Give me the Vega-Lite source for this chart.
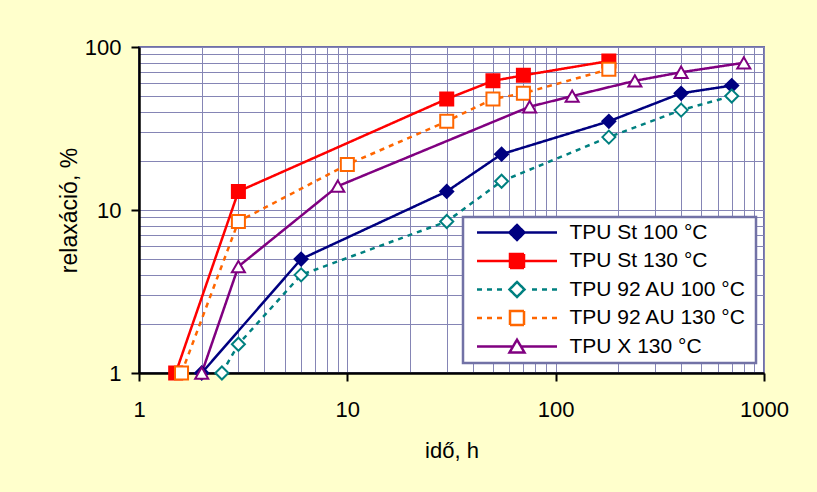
{
  "$schema": "https://vega.github.io/schema/vega-lite/v6.json",
  "width": 625,
  "height": 326,
  "autosize": {"type": "none"},
  "padding": {"left": 139, "top": 47, "right": 53, "bottom": 119},
  "background": "#FFFFCC",
  "config": {
    "font": "Liberation Sans",
    "view": {"fill": "white", "stroke": "#7070A8", "strokeWidth": 2}
  },
  "data": {
    "values": [
      {"series": "TPU St 100 °C", "t": 2, "r": 1},
      {"series": "TPU St 100 °C", "t": 6, "r": 5},
      {"series": "TPU St 100 °C", "t": 30, "r": 13},
      {"series": "TPU St 100 °C", "t": 55, "r": 22},
      {"series": "TPU St 100 °C", "t": 180, "r": 35},
      {"series": "TPU St 100 °C", "t": 400, "r": 52},
      {"series": "TPU St 100 °C", "t": 700, "r": 58},
      {"series": "TPU St 130 °C", "t": 1.5, "r": 1},
      {"series": "TPU St 130 °C", "t": 3, "r": 13},
      {"series": "TPU St 130 °C", "t": 30, "r": 48},
      {"series": "TPU St 130 °C", "t": 50, "r": 62},
      {"series": "TPU St 130 °C", "t": 70, "r": 67},
      {"series": "TPU St 130 °C", "t": 180, "r": 82},
      {"series": "TPU 92 AU 100 °C", "t": 2.5, "r": 1},
      {"series": "TPU 92 AU 100 °C", "t": 3, "r": 1.5},
      {"series": "TPU 92 AU 100 °C", "t": 6, "r": 4},
      {"series": "TPU 92 AU 100 °C", "t": 30, "r": 8.5},
      {"series": "TPU 92 AU 100 °C", "t": 55, "r": 15},
      {"series": "TPU 92 AU 100 °C", "t": 180, "r": 28},
      {"series": "TPU 92 AU 100 °C", "t": 400, "r": 41},
      {"series": "TPU 92 AU 100 °C", "t": 700, "r": 50},
      {"series": "TPU 92 AU 130 °C", "t": 1.6, "r": 1},
      {"series": "TPU 92 AU 130 °C", "t": 3, "r": 8.5},
      {"series": "TPU 92 AU 130 °C", "t": 10, "r": 19},
      {"series": "TPU 92 AU 130 °C", "t": 30, "r": 35},
      {"series": "TPU 92 AU 130 °C", "t": 50, "r": 48},
      {"series": "TPU 92 AU 130 °C", "t": 70, "r": 52},
      {"series": "TPU 92 AU 130 °C", "t": 180, "r": 73},
      {"series": "TPU X 130 °C", "t": 2, "r": 1},
      {"series": "TPU X 130 °C", "t": 3, "r": 4.5},
      {"series": "TPU X 130 °C", "t": 9, "r": 14},
      {"series": "TPU X 130 °C", "t": 75, "r": 43},
      {"series": "TPU X 130 °C", "t": 120, "r": 50},
      {"series": "TPU X 130 °C", "t": 240, "r": 62},
      {"series": "TPU X 130 °C", "t": 400, "r": 70},
      {"series": "TPU X 130 °C", "t": 800, "r": 80}
    ]
  },
  "encoding": {
    "x": {
      "field": "t",
      "type": "quantitative",
      "scale": {"type": "log", "domain": [1, 1000], "nice": false},
      "axis": {
        "values": [1, 2, 3, 4, 5, 6, 7, 8, 9, 10, 20, 30, 40, 50, 60, 70, 80, 90, 100, 200, 300, 400, 500, 600, 700, 800, 900, 1000],
        "format": "d",
        "labelExpr": "indexof([1, 10, 100, 1000], datum.value) >= 0 ? datum.label : ''",
        "labelFontSize": 22,
        "labelColor": "black",
        "labelPadding": 18,
        "labelOverlap": false,
        "labelFlush": false,
        "tickColor": "black",
        "tickWidth": 2,
        "tickSize": 8,
        "tickOpacity": {"condition": {"test": "indexof([1, 10, 100, 1000], datum.value) >= 0", "value": 1}, "value": 0},
        "domainColor": "black",
        "domainWidth": 2.5,
        "grid": true,
        "gridColor": "#8585B5",
        "gridWidth": 1,
        "title": "idő, h",
        "titleFontSize": 22,
        "titleFontWeight": "normal",
        "titleColor": "black",
        "titlePadding": 20
      }
    },
    "y": {
      "field": "r",
      "type": "quantitative",
      "scale": {"type": "log", "domain": [1, 100], "nice": false},
      "axis": {
        "values": [1, 2, 3, 4, 5, 6, 7, 8, 9, 10, 20, 30, 40, 50, 60, 70, 80, 90, 100],
        "format": "d",
        "labelExpr": "indexof([1, 10, 100], datum.value) >= 0 ? datum.label : ''",
        "labelFontSize": 22,
        "labelColor": "black",
        "labelPadding": 10,
        "labelOverlap": false,
        "labelFlush": false,
        "tickColor": "black",
        "tickWidth": 2,
        "tickSize": 8,
        "tickOpacity": {"condition": {"test": "indexof([1, 10, 100], datum.value) >= 0", "value": 1}, "value": 0},
        "domainColor": "black",
        "domainWidth": 2.5,
        "grid": true,
        "gridColor": "#8585B5",
        "gridWidth": 1,
        "title": "relaxáció, %",
        "titleFontSize": 23,
        "titleFontWeight": "normal",
        "titleColor": "black",
        "titlePadding": 3
      }
    }
  },
  "layer": [
    {
      "mark": {"type": "line", "strokeWidth": 2.5},
      "encoding": {
        "color": {
          "field": "series",
          "type": "nominal",
          "scale": {
            "domain": ["TPU St 100 °C", "TPU St 130 °C", "TPU 92 AU 100 °C", "TPU 92 AU 130 °C", "TPU X 130 °C"],
            "range": ["#000080", "#FF0000", "#008080", "#FF6600", "#800080"]
          },
          "legend": {
            "title": " ",
            "titleOrient": "right",
            "titlePadding": 5,
            "titleFontSize": 21,
            "orient": "none",
            "legendX": 324,
            "legendY": 170,
            "fillColor": "white",
            "strokeColor": "#7272A6",
            "padding": 5,
            "symbolSize": 6400,
            "symbolStrokeWidth": 2.5,
            "symbolOffset": 7.5,
            "labelOffset": 11,
            "labelFontSize": 21,
            "labelColor": "black",
            "labelLimit": 400,
            "rowPadding": 3.5,
            "encode": {
              "legend": {"update": {"strokeWidth": {"value": 2.5}}},
              "labels": {"update": {"y": {"value": 10.5}}},
              "symbols": {
                "update": {
                  "y": {"value": 10.5},
                  "size": {"value": 6400},
                  "shape": {"signal": "['M-1,0H1M0,-0.1875L0.1875,0L0,0.1875L-0.1875,0Z', 'M-1,0H1M-0.175,-0.175H0.175V0.175H-0.175Z', 'M-1,0H-0.875M-0.75,0H-0.625M-0.5,0H-0.375M0.375,0H0.5M0.625,0H0.75M0.875,0H1M0,-0.1875L0.1875,0L0,0.1875L-0.1875,0Z', 'M-1,0H-0.875M-0.75,0H-0.625M-0.5,0H-0.375M0.375,0H0.5M0.625,0H0.75M0.875,0H1M-0.175,-0.175H0.175V0.175H-0.175Z', 'M-1,0H-0.1M0.1,0H1M0,-0.17L0.1875,0.15L-0.1875,0.15Z'][indexof(['TPU St 100 °C', 'TPU St 130 °C', 'TPU 92 AU 100 °C', 'TPU 92 AU 130 °C', 'TPU X 130 °C'], datum.value)]"},
                  "fill": {"signal": "['#000080', '#FF0000', '#FFFFFF', '#FFFFFF', '#FFFFFF'][indexof(['TPU St 100 °C', 'TPU St 130 °C', 'TPU 92 AU 100 °C', 'TPU 92 AU 130 °C', 'TPU X 130 °C'], datum.value)]"},
                  "strokeDash": {"value": [1, 0]},
                  "strokeWidth": {"value": 2.5},
                  "opacity": {"value": 1}
                }
              }
            }
          }
        },
        "strokeDash": {
          "field": "series",
          "type": "nominal",
          "scale": {
            "domain": ["TPU X 130 °C", "TPU 92 AU 130 °C", "TPU 92 AU 100 °C", "TPU St 130 °C", "TPU St 100 °C"],
            "range": [[1, 0], [5, 5], [5, 5], [1, 0], [1, 0]]
          },
          "legend": null
        }
      }
    },
    {
      "mark": {"type": "point", "filled": true, "opacity": 1, "strokeWidth": 2},
      "encoding": {
        "shape": {
          "field": "series",
          "type": "nominal",
          "scale": {
            "domain": ["TPU X 130 °C", "TPU 92 AU 130 °C", "TPU 92 AU 100 °C", "TPU St 130 °C", "TPU St 100 °C"],
            "range": ["triangle-up", "square", "diamond", "square", "diamond"]
          },
          "legend": null
        },
        "size": {
          "field": "series",
          "type": "nominal",
          "scale": {
            "domain": ["TPU X 130 °C", "TPU 92 AU 130 °C", "TPU 92 AU 100 °C", "TPU St 130 °C", "TPU St 100 °C"],
            "range": [170, 169, 130, 169, 130]
          },
          "legend": null
        },
        "stroke": {
          "field": "series",
          "type": "nominal",
          "scale": {
            "domain": ["TPU X 130 °C", "TPU 92 AU 130 °C", "TPU 92 AU 100 °C", "TPU St 130 °C", "TPU St 100 °C"],
            "range": ["#800080", "#FF6600", "#008080", "#FF0000", "#000080"]
          },
          "legend": null
        },
        "fill": {
          "field": "series",
          "type": "nominal",
          "scale": {
            "domain": ["TPU X 130 °C", "TPU 92 AU 130 °C", "TPU 92 AU 100 °C", "TPU St 130 °C", "TPU St 100 °C"],
            "range": ["#FFFFFF", "#FFFFFF", "#FFFFFF", "#FF0000", "#000080"]
          },
          "legend": null
        }
      }
    }
  ]
}
